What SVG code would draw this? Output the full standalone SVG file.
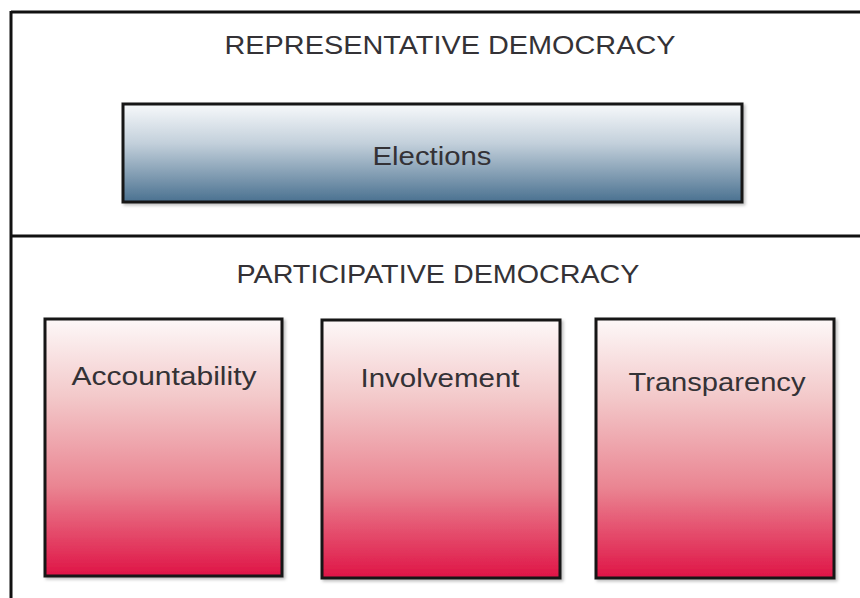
<svg xmlns="http://www.w3.org/2000/svg" width="860" height="598" viewBox="0 0 860 598">
<defs>
<linearGradient id="gBlue" x1="0" y1="0" x2="0" y2="1">
<stop offset="0" stop-color="#f7f9fb"/>
<stop offset="0.4" stop-color="#c3d0db"/>
<stop offset="1" stop-color="#4a7190"/>
</linearGradient>
<linearGradient id="gRed" x1="0" y1="0" x2="0" y2="1">
<stop offset="0" stop-color="#fdf8f8"/>
<stop offset="0.3" stop-color="#f3c9ca"/>
<stop offset="0.65" stop-color="#ea8592"/>
<stop offset="1" stop-color="#df1446"/>
</linearGradient>
<filter id="sh" x="-5%" y="-5%" width="115%" height="115%">
<feDropShadow dx="2" dy="2" stdDeviation="1.5" flood-color="#000" flood-opacity="0.25"/>
</filter>
</defs>
<style>
.frame{stroke:#111;stroke-width:3;fill:none}
.box{stroke:#141414;stroke-width:3;filter:url(#sh)}
.t{font-family:"Liberation Sans",Arial,Helvetica,sans-serif;fill:#343236;text-anchor:middle}
.h{font-size:26px}
.l{font-size:25px}
</style>
<rect width="860" height="598" fill="#ffffff"/>
<g id="frame">
<line class="frame" x1="11" y1="12" x2="860" y2="12"/>
<line class="frame" x1="11" y1="11" x2="11" y2="598"/>
<line class="frame" x1="11" y1="236" x2="860" y2="236"/>
</g>
<g id="representative">
<text class="t h" x="450" y="54" textLength="451" lengthAdjust="spacingAndGlyphs">REPRESENTATIVE DEMOCRACY</text>
</g>
<g id="elections">
<rect class="box" x="123" y="104" width="619" height="98" fill="url(#gBlue)"/>
<text class="t l" x="432" y="165" textLength="119" lengthAdjust="spacingAndGlyphs">Elections</text>
</g>
<g id="participative">
<text class="t h" x="438" y="283" textLength="403" lengthAdjust="spacingAndGlyphs">PARTICIPATIVE DEMOCRACY</text>
</g>
<g id="accountability">
<rect class="box" x="45" y="319" width="237" height="257" fill="url(#gRed)"/>
<text class="t l" x="164" y="385" textLength="185" lengthAdjust="spacingAndGlyphs">Accountability</text>
</g>
<g id="involvement">
<rect class="box" x="322" y="320" width="238" height="258" fill="url(#gRed)"/>
<text class="t l" x="440" y="387" textLength="159" lengthAdjust="spacingAndGlyphs">Involvement</text>
</g>
<g id="transparency">
<rect class="box" x="596" y="319" width="238" height="259" fill="url(#gRed)"/>
<text class="t l" x="717" y="391" textLength="177" lengthAdjust="spacingAndGlyphs">Transparency</text>
</g>
<g id="connectors"/>
</svg>
